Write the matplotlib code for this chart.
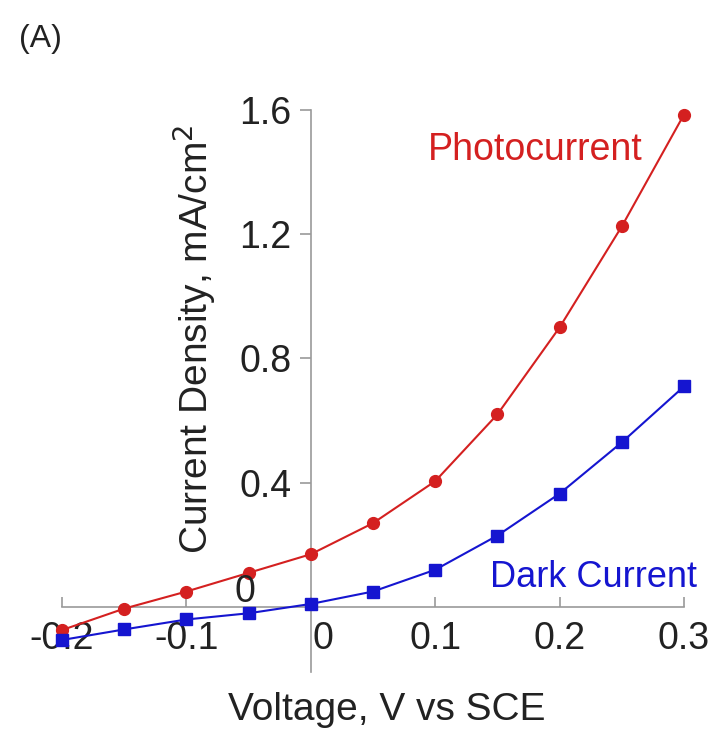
import matplotlib
matplotlib.use("Agg")
import matplotlib.pyplot as plt
from matplotlib.transforms import ScaledTranslation

plt.rcParams['font.family'] = ['Liberation Sans', 'DejaVu Sans']

voltage = [-0.2, -0.15, -0.1, -0.05, 0.0, 0.05, 0.1, 0.15, 0.2, 0.25, 0.3]
photocurrent = [-0.074, -0.005, 0.05, 0.11, 0.17, 0.27, 0.405, 0.62, 0.90, 1.225, 1.585]
dark_current = [-0.106, -0.072, -0.04, -0.02, 0.01, 0.05, 0.12, 0.23, 0.365, 0.53, 0.71]
x_ticks = [-0.2, -0.1, 0.0, 0.1, 0.2, 0.3]
x_tick_labels = ["-0.2", "-0.1", "0", "0.1", "0.2", "0.3"]
y_ticks = [0.4, 0.8, 1.2, 1.6]
y_tick_labels = ["0.4", "0.8", "1.2", "1.6"]

red = "#d42020"
blue = "#1515d0"
axis_gray = "#9a9a9a"
text_color = "#222222"

W, H = 717, 730
fig = plt.figure(figsize=(W / 100, H / 100), dpi=100)
ax = fig.add_axes([62 / W, 0.062, 622 / W, 0.8088])
ax.set_xlim(-0.2, 0.3)
ax.set_ylim(-0.25, 1.65)

for side in ("top", "right"):
    ax.spines[side].set_visible(False)
ax.spines["left"].set_position(("data", 0))
ax.spines["bottom"].set_position(("data", 0))
ax.spines["left"].set_bounds(-0.21, 1.6)
ax.spines["bottom"].set_bounds(-0.2, 0.3)
for side in ("left", "bottom"):
    ax.spines[side].set_color(axis_gray)
    ax.spines[side].set_linewidth(1.2)

ax.set_xticks(x_ticks)
ax.set_xticklabels(x_tick_labels)
ax.set_yticks(y_ticks)
ax.set_yticklabels(y_tick_labels)
ax.tick_params(axis="x", direction="in", length=7, width=1.2, color=axis_gray,
               pad=10, labelsize=27, labelcolor=text_color)
ax.tick_params(axis="y", direction="out", length=8, width=1.2, color=axis_gray,
               pad=6, labelsize=27, labelcolor=text_color)

# the "0" under the origin sits a little to the right of the vertical axis
zero_label = ax.get_xticklabels()[2]
zero_label.set_transform(zero_label.get_transform()
                         + ScaledTranslation(12 / 100, 0, fig.dpi_scale_trans))

ax.plot(voltage, photocurrent, color=red, lw=1.5, marker="o", ms=8.5,
        clip_on=False, zorder=3)
ax.plot(voltage, dark_current, color=blue, lw=1.5, marker="s", ms=8,
        clip_on=False, zorder=3)

def fig_xy(px, py):
    return px / W, 1 - py / H

fig.text(*fig_xy(245, 602), "0", fontsize=27, color=text_color,
         ha="center", va="baseline")
fig.text(*fig_xy(535, 160), "Photocurrent", fontsize=27, color=red,
         ha="center", va="baseline")
fig.text(*fig_xy(594, 587), "Dark Current", fontsize=26, color=blue,
         ha="center", va="baseline")

fig.text(*fig_xy(208, 339), "Current Density, mA/cm$^2$", rotation=90,
         fontsize=28, color=text_color, ha="center", va="baseline",
         rotation_mode="anchor")
fig.text(*fig_xy(387, 720), "Voltage, V vs SCE", fontsize=28, color=text_color,
         ha="center", va="baseline")
fig.text(*fig_xy(40, 39), "(A)", fontsize=23, color=text_color,
         ha="center", va="center")

fig.savefig("out.png", dpi=100)
